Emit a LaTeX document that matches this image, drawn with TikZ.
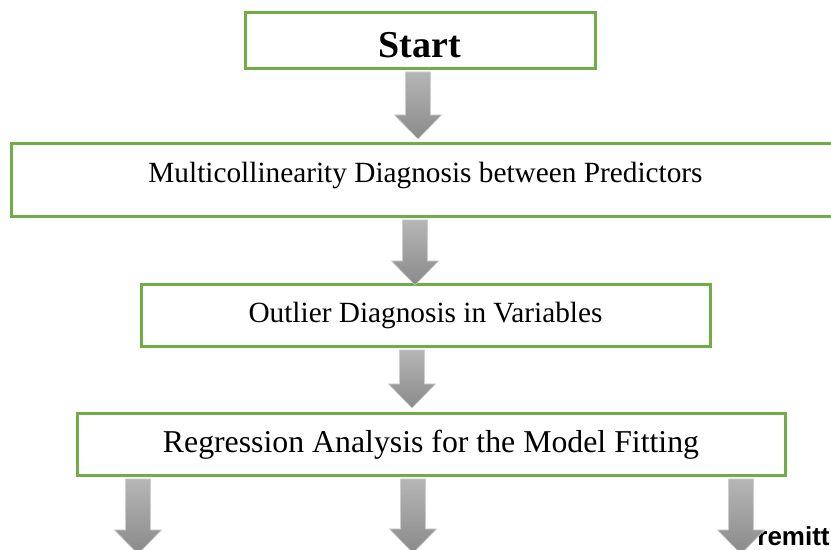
\documentclass[tikz,border=0pt]{standalone}
\usepackage{fontspec}
\setmainfont{Liberation Serif}
\setsansfont{Liberation Sans}
\usetikzlibrary{calc}
\definecolor{boxgreen}{RGB}{112,173,71}
\definecolor{arrowtop}{RGB}{182,182,182}
\definecolor{arrowbot}{RGB}{138,138,138}
\definecolor{arrowedge}{RGB}{205,205,205}
% gray block arrow pointing down, from #1 to the tip #2
\newcommand{\blockarrow}[2]{%
  \path[blockarrow] let \p1=(#1), \p2=(#2) in
    (\x1-6.25pt,\y1-0.75pt) -- (\x1-6.25pt,\y2+12pt) -- (\x1-11.75pt,\y2+12pt)
    -- (\x1,\y2) -- (\x1+11.75pt,\y2+12pt) -- (\x1+6.25pt,\y2+12pt)
    -- (\x1+6.25pt,\y1-0.75pt) -- cycle;}
\begin{document}
\begin{tikzpicture}[x=0.5pt,y=-0.5pt,
  stepbox/.style={draw=boxgreen, line width=1.5pt, fill=white, inner sep=0pt,
    font=\fontsize{14.65}{16}\selectfont},
  blockarrow/.style={top color=arrowtop, bottom color=arrowbot, draw=arrowedge, line width=0.3pt}]
\useasboundingbox (0,0) rectangle (831,550);
 \node[stepbox, minimum width=175pt, minimum height=28pt, font=\fontsize{19}{22}\selectfont\bfseries,
   text height=17pt, text depth=0pt] (start) at (420,41) {Start};
 \node[stepbox, minimum width=414.5pt, minimum height=36.5pt, text height=10pt, text depth=7.5pt]
   (multi) at (425.5,180.5) {Multicollinearity Diagnosis between Predictors};
 \node[stepbox, minimum width=284.5pt, minimum height=31pt, text height=10pt, text depth=3pt]
   (outlier) at (425.5,316) {Outlier Diagnosis in Variables};
 \node[stepbox, minimum width=354pt, minimum height=31pt, font=\fontsize{15.9}{18}\selectfont,
   text height=10.5pt, text depth=2.5pt] (regress) at (431,445) {Regression Analysis for the Model Fitting};
 \node[anchor=base west, inner sep=0pt, font=\fontsize{13}{15}\selectfont\sffamily\bfseries]
   (remitt) at (757,546) {remitt};
 % arrow tips
 \coordinate (tip1) at (418,139);
 \coordinate (tip2) at (415,285);
 \coordinate (tip3) at (412,408);
 \coordinate (tipl) at (138,554);
 \coordinate (tipm) at (413,553);
 \coordinate (tipr) at (741,554);
 \blockarrow{start.south -| tip1}{tip1}
 \blockarrow{multi.south -| tip2}{tip2}
 \blockarrow{outlier.south -| tip3}{tip3}
 \blockarrow{regress.south -| tipl}{tipl}
 \blockarrow{regress.south -| tipm}{tipm}
 \blockarrow{regress.south -| tipr}{tipr}
\end{tikzpicture}
\end{document}
